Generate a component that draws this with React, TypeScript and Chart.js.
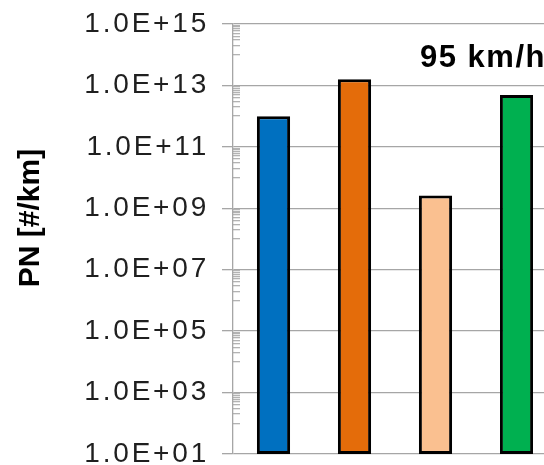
import React, { useEffect, useRef } from "react";
import { Chart, registerables } from "chart.js";

Chart.register(...registerables);

// ---- data ----
const categories = ["Vehicle 1", "Vehicle 2", "Vehicle 3", "Vehicle 4"];
const pnValues = [1.0e12, 1.6e13, 2.6e9, 4.9e12];
const barColors = ["#0070C0", "#E46C0A", "#FAC090", "#00B050"];
const yMajorTicks = [1e1, 1e3, 1e5, 1e7, 1e9, 1e11, 1e13, 1e15];
const yTickLabels = [
  "1.0E+01",
  "1.0E+03",
  "1.0E+05",
  "1.0E+07",
  "1.0E+09",
  "1.0E+11",
  "1.0E+13",
  "1.0E+15",
];
const minorExponents = [2, 4, 6, 8, 10, 12, 14];
const minorMultipliers = [1, 2, 3, 4, 5, 6, 7, 8, 9];
const yMinorTicks: number[] = [];
minorExponents.forEach((e) =>
  minorMultipliers.forEach((m) => yMinorTicks.push(m * Math.pow(10, e)))
);
const chartTitle = "95 km/h";
const yAxisTitle = "PN [#/km]";

const FONT = "'Liberation Sans', Arial, sans-serif";

export default function App() {
  const ref = useRef<HTMLCanvasElement>(null);

  useEffect(() => {
    if (!ref.current) return;

    const textPlugin = {
      id: "panelTexts",
      beforeDraw(chart: any) {
        chart.ctx.letterSpacing = "2.8px";
      },
      afterDraw(chart: any) {
        const ctx = chart.ctx;
        const area = chart.chartArea;
        ctx.save();
        ctx.fillStyle = "#000000";
        ctx.font = `bold 31px ${FONT}`;
        ctx.letterSpacing = "1.5px";
        ctx.textAlign = "left";
        ctx.textBaseline = "alphabetic";
        ctx.fillText(chartTitle, area.left + 187, area.top + 42.5);
        ctx.letterSpacing = "0px";
        ctx.font = `bold 30px ${FONT}`;
        ctx.translate(39, (area.top + area.bottom) / 2 - 21);
        ctx.rotate(-Math.PI / 2);
        ctx.textAlign = "center";
        ctx.fillText(yAxisTitle, 0, 0);
        ctx.restore();
      },
    };

    const chart = new Chart(ref.current, {
      type: "bar",
      data: {
        labels: categories,
        datasets: [
          {
            data: pnValues,
            backgroundColor: barColors,
            borderColor: "#000000",
            borderWidth: 3,
            borderSkipped: false,
            barPercentage: 0.41,
            categoryPercentage: 1,
          },
        ],
      },
      options: {
        animation: false,
        responsive: false,
        devicePixelRatio: 1,
        layout: { padding: { left: 0, top: 24, right: 3, bottom: 11 } },
        plugins: {
          legend: { display: false },
          title: { display: false },
          tooltip: { enabled: false },
        },
        scales: {
          x: { display: false, offset: true },
          y: {
            type: "logarithmic",
            position: "left",
            weight: 1,
            min: 10,
            max: 1e15,
            afterBuildTicks: (s: any) => {
              s.ticks = yMajorTicks.map((v) => ({ value: v }));
            },
            afterFit: (s: any) => {
              s.width = 233;
              s.paddingTop = 0;
              s.paddingBottom = 0;
            },
            grid: {
              color: "#a6a6a6",
              lineWidth: 1.3,
              tickLength: 11,
              drawTicks: true,
            },
            border: { color: "#a6a6a6", width: 1.3 },
            ticks: {
              autoSkip: false,
              callback: (_v: any, i: number) => yTickLabels[i],
              color: "#1f1f1f",
              font: { family: FONT, size: 28 },
              padding: 13,
            },
          },
          y2: {
            type: "logarithmic",
            position: "left",
            weight: 0,
            min: 10,
            max: 1e15,
            afterBuildTicks: (s: any) => {
              s.ticks = yMinorTicks.map((v) => ({ value: v }));
            },
            afterFit: (s: any) => {
              s.width = 0;
              s.paddingTop = 0;
              s.paddingBottom = 0;
            },
            grid: {
              drawOnChartArea: false,
              drawTicks: true,
              color: "#b3b3b3",
              lineWidth: 1.3,
              tickLength: -7,
            },
            border: { display: false },
            ticks: { display: false },
          },
        },
      } as any,
      plugins: [textPlugin],
    });

    return () => chart.destroy();
  }, []);

  return (
    <div
      style={{
        position: "absolute",
        left: 0,
        top: 0,
        width: 544,
        height: 465,
        overflow: "hidden",
        background: "#ffffff",
      }}
    >
      <canvas ref={ref} width={560} height={465} style={{ display: "block" }} />
    </div>
  );
}
